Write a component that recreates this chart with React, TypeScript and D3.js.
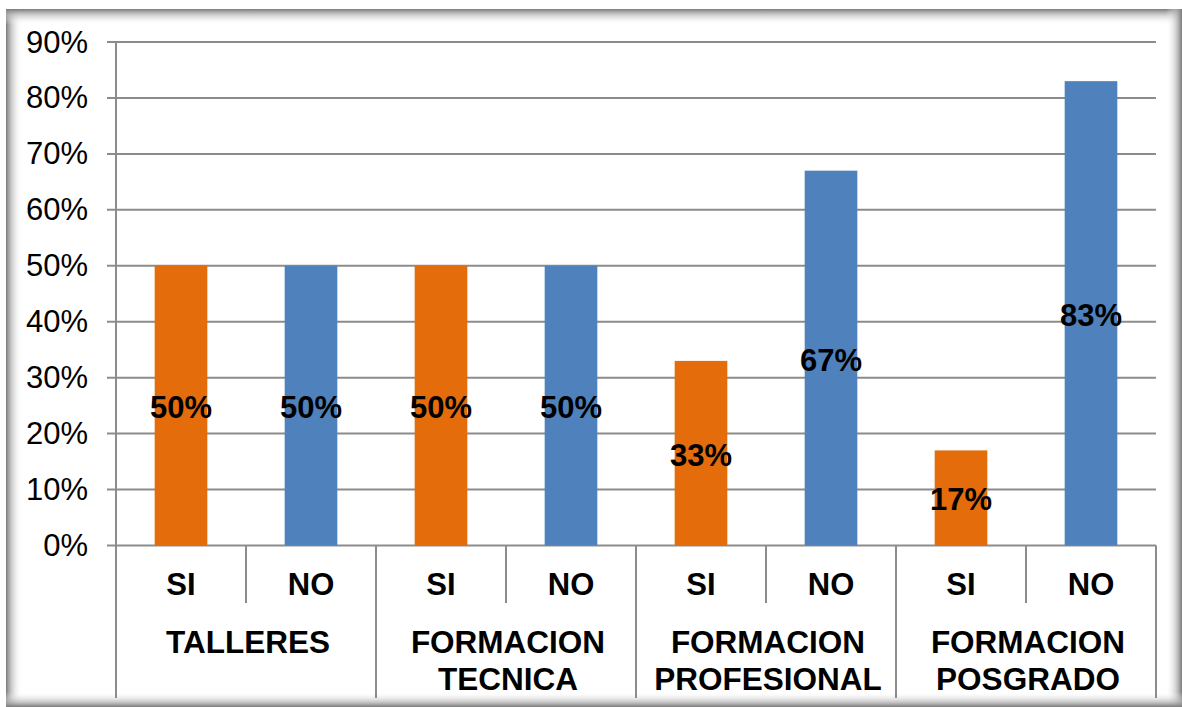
import React from "react";
import * as d3 from "d3";

const groups = ["TALLERES", "FORMACION\nTECNICA", "FORMACION\nPROFESIONAL", "FORMACION\nPOSGRADO"];
const answers = ["SI", "NO"];
const siValues = [50, 50, 33, 17];
const noValues = [50, 50, 67, 83];
const yTicks = [0, 10, 20, 30, 40, 50, 60, 70, 80, 90];

const COLORS: Record<string, string> = { SI: "#E46C0A", NO: "#4F81BD" };
const W = 1182;
const H = 707;
const plot = { left: 116, right: 1156, top: 42, bottom: 545.5 };
const FONT = "'Liberation Sans', Arial, sans-serif";

type Cell = { key: string; group: string; answer: string; value: number };

const cells: Cell[] = groups.flatMap((g, gi) =>
  answers.map((a) => ({
    key: `${gi}-${a}`,
    group: g,
    answer: a,
    value: a === "SI" ? siValues[gi] : noValues[gi],
  }))
);

export default function App() {
  const x = d3
    .scaleBand<string>()
    .domain(cells.map((c) => c.key))
    .range([plot.left, plot.right])
    .paddingInner(0)
    .paddingOuter(0);
  const bw = x.bandwidth();
  const barW = bw * 0.405;
  const y = d3.scaleLinear().domain([0, 90]).range([plot.bottom, plot.top]);
  const gridColor = "#8c8c8c";
  const groupW = bw * answers.length;

  return (
    <div style={{ position: "absolute", left: 0, top: 0, width: W, height: H }}>
      <svg width={W} height={H} style={{ display: "block" }}>
        <defs>
          <linearGradient id="shL" x1="0" x2="1" y1="0" y2="0">
            <stop offset="0" stopColor="#7a7a7a" stopOpacity="1" />
            <stop offset="0.35" stopColor="#b5b5b5" stopOpacity="0.7" />
            <stop offset="1" stopColor="#ffffff" stopOpacity="0" />
          </linearGradient>
          <linearGradient id="shT" x1="0" x2="0" y1="0" y2="1">
            <stop offset="0" stopColor="#7a7a7a" stopOpacity="1" />
            <stop offset="0.35" stopColor="#b5b5b5" stopOpacity="0.7" />
            <stop offset="1" stopColor="#ffffff" stopOpacity="0" />
          </linearGradient>
          <linearGradient id="shR" x1="1" x2="0" y1="0" y2="0">
            <stop offset="0" stopColor="#7a7a7a" stopOpacity="1" />
            <stop offset="0.35" stopColor="#b5b5b5" stopOpacity="0.7" />
            <stop offset="1" stopColor="#ffffff" stopOpacity="0" />
          </linearGradient>
          <linearGradient id="shB" x1="0" x2="0" y1="1" y2="0">
            <stop offset="0" stopColor="#7a7a7a" stopOpacity="1" />
            <stop offset="0.35" stopColor="#b5b5b5" stopOpacity="0.7" />
            <stop offset="1" stopColor="#ffffff" stopOpacity="0" />
          </linearGradient>
        </defs>
        <rect x={0} y={0} width={W} height={H} fill="#ffffff" />

        {/* framed chart area with a soft inner shadow */}
        <rect x={6} y={9} width={W - 6} height={H - 9} fill="#ffffff" />
        <rect x={6} y={9} width={16} height={H - 9} fill="url(#shL)" />
        <rect x={6} y={9} width={W - 6} height={16} fill="url(#shT)" />
        <rect x={W - 16} y={9} width={16} height={H - 9} fill="url(#shR)" />
        <rect x={6} y={H - 15} width={W - 6} height={15} fill="url(#shB)" />

        {/* horizontal gridlines and y tick labels */}
        {yTicks.map((t) => (
          <g key={t}>
            <line
              x1={plot.left - 9}
              x2={plot.right}
              y1={y(t)}
              y2={y(t)}
              stroke={gridColor}
              strokeWidth={2}
            />
            <text
              x={88}
              y={y(t)}
              textAnchor="end"
              dominantBaseline="central"
              fontFamily={FONT}
              fontSize={31}
              fill="#000"
            >
              {t}%
            </text>
          </g>
        ))}

        {/* vertical axis */}
        <line x1={plot.left} x2={plot.left} y1={plot.top} y2={698} stroke={gridColor} strokeWidth={2} />

        {/* bars */}
        {cells.map((c) => {
          const cx = (x(c.key) as number) + bw / 2;
          return (
            <rect
              key={c.key}
              x={cx - barW / 2}
              y={y(c.value)}
              width={barW}
              height={y(0) - y(c.value)}
              fill={COLORS[c.answer]}
            />
          );
        })}

        {/* value labels */}
        {cells.map((c) => {
          const cx = (x(c.key) as number) + bw / 2;
          return (
            <text
              key={`l-${c.key}`}
              x={cx}
              y={(y(c.value) + y(0)) / 2 + 2}
              textAnchor="middle"
              dominantBaseline="central"
              fontFamily={FONT}
              fontWeight="bold"
              fontSize={31}
              fill="#000"
            >
              {c.value}%
            </text>
          );
        })}

        {/* category axis: inner separators, group separators and labels */}
        {cells.map((c, i) => {
          const x0 = x(c.key) as number;
          const isGroupStart = i % answers.length === 0;
          return (
            <g key={`a-${c.key}`}>
              {!isGroupStart && (
                <line x1={x0} x2={x0} y1={plot.bottom} y2={603} stroke={gridColor} strokeWidth={2} />
              )}
              <text
                x={x0 + bw / 2}
                y={584}
                textAnchor="middle"
                dominantBaseline="central"
                fontFamily={FONT}
                fontWeight="bold"
                fontSize={31}
                fill="#000"
              >
                {c.answer}
              </text>
            </g>
          );
        })}
        {groups.map((g, gi) => {
          const x0 = plot.left + gi * groupW;
          const lines = g.split("\n");
          return (
            <g key={`g-${gi}`}>
              <line
                x1={x0 + groupW}
                x2={x0 + groupW}
                y1={plot.bottom}
                y2={698}
                stroke={gridColor}
                strokeWidth={2}
              />
              {lines.map((ln, li) => (
                <text
                  key={li}
                  x={x0 + groupW / 2 + 2}
                  y={642 + li * 37}
                  textAnchor="middle"
                  dominantBaseline="central"
                  fontFamily={FONT}
                  fontWeight="bold"
                  fontSize={31.5}
                  fill="#000"
                >
                  {ln}
                </text>
              ))}
            </g>
          );
        })}
      </svg>
    </div>
  );
}
